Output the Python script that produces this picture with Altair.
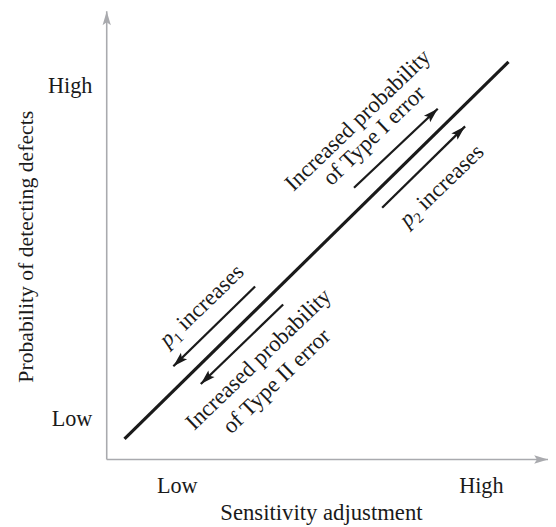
import altair as alt
import pandas as pd

# ---- data (abstract units: 0..10 on both axes) ----
tick_x = [1.588, 8.479]          # "Low", "High" on sensitivity axis
tick_y = [0.903, 8.341]          # "Low", "High" on probability axis

main_x = [0.403, 9.105]
main_y = [0.463, 8.870]

arrow_names = ["Type I", "p2", "p1", "Type II"]
tail_x = [5.604, 6.242, 3.362, 3.998]
tail_y = [6.064, 5.617, 3.861, 3.458]
tip_x = [7.501, 8.121, 1.510, 2.132]
tip_y = [7.826, 7.434, 2.081, 1.685]
tip_angle = [46, 46, 226, 226]

text_lines = ["Increased probability", "of Type I error",
              "Increased probability", "of Type II error"]
text_x = [5.690, 6.060, 3.440, 3.850]
text_y = [7.570, 7.225, 2.235, 1.745]

p_subs = ["2", "1"]
p_x = [7.590, 2.150]
p_y = [6.110, 3.430]

axis_x0 = [0, 0]
axis_y0 = [0, 0]
axis_x1 = [10, 0]
axis_y1 = [0, 10]
axis_head_angle = [90, 0]

# ---- tables ----
main_df = pd.DataFrame({"x": [main_x[0]], "y": [main_y[0]], "x2": [main_x[1]], "y2": [main_y[1]]})
arrow_df = pd.DataFrame({"name": arrow_names, "x": tail_x, "y": tail_y, "x2": tip_x, "y2": tip_y})
head_df = pd.DataFrame({"name": arrow_names, "x": tip_x, "y": tip_y, "a": tip_angle})
text_df = pd.DataFrame({"t": text_lines, "x": text_x, "y": text_y})
p_df = pd.DataFrame({"sub": p_subs, "x": p_x, "y": p_y})
axis_df = pd.DataFrame({"x": axis_x0, "y": axis_y0, "x2": axis_x1, "y2": axis_y1})
axis_head_df = pd.DataFrame({"x": axis_x1, "y": axis_y1, "a": axis_head_angle})

FONT = "Liberation Serif"
INK = "#1a1a1a"
GRAY = "#a9aaae"
TANGLE = 316

xs = alt.Scale(domain=[0, 10], nice=False, zero=False)
ys = alt.Scale(domain=[0, 10], nice=False, zero=False)

x_axis = alt.Axis(
    values=tick_x, labelExpr="datum.value < 5 ? 'Low' : 'High'",
    title="Sensitivity adjustment", titleX=217, titleY=61, titleBaseline="alphabetic",
    titleFontSize=23,
    labelPadding=15, labelFlush=False, labelOverlap=False,
    domain=False, ticks=False, tickSize=0, grid=False,
)
y_axis = alt.Axis(
    values=tick_y, labelExpr="datum.value < 5 ? 'Low' : 'High'",
    title="Probability of detecting defects", titleX=-75.5, titleY=238, titleBaseline="alphabetic",
    titleAngle=270, titleFontSize=22,
    labelPadding=15, labelFlush=False, labelOverlap=False,
    domain=False, ticks=False, tickSize=0, grid=False,
)

X = alt.X("x:Q", scale=xs, axis=x_axis)
Y = alt.Y("y:Q", scale=ys, axis=y_axis)

ARROW = "M0,0L-0.3,1L0,0.8L0.3,1Z"

axes_lines = alt.Chart(axis_df).mark_rule(color=GRAY, strokeWidth=1.6).encode(
    x=X, y=Y, x2="x2:Q", y2="y2:Q")
axes_heads = alt.Chart(axis_head_df).mark_point(
    shape=ARROW, filled=True, color=GRAY, size=784, opacity=1, strokeWidth=0
).encode(x=X, y=Y, angle=alt.Angle("a:Q", scale=None))

main_line = alt.Chart(main_df).mark_rule(color=INK, strokeWidth=3.2).encode(
    x=X, y=Y, x2="x2:Q", y2="y2:Q")
arrows = alt.Chart(arrow_df).mark_rule(color=INK, strokeWidth=2.3).encode(
    x=X, y=Y, x2="x2:Q", y2="y2:Q")
heads = alt.Chart(head_df).mark_point(
    shape=ARROW, filled=True, color=INK, size=900, opacity=1, strokeWidth=0
).encode(x=X, y=Y, angle=alt.Angle("a:Q", scale=None))

texts = alt.Chart(text_df).mark_text(
    font=FONT, fontSize=23, color=INK, angle=TANGLE, align="center", baseline="middle"
).encode(x=X, y=Y, text="t:N")

p_letter = alt.Chart(p_df).mark_text(
    font=FONT, fontSize=23, fontStyle="italic", color=INK, angle=TANGLE,
    align="left", baseline="middle", dx=-54.5
).encode(x=X, y=Y, text=alt.value("p"))
p_sub = alt.Chart(p_df).mark_text(
    font=FONT, fontSize=15, color=INK, angle=TANGLE,
    align="left", baseline="middle", dx=-43, dy=7
).encode(x=X, y=Y, text="sub:N")
p_rest = alt.Chart(p_df).mark_text(
    font=FONT, fontSize=23, color=INK, angle=TANGLE,
    align="left", baseline="middle", dx=-29.75
).encode(x=X, y=Y, text=alt.value("increases"))

chart = alt.layer(
    axes_lines, axes_heads, main_line, arrows, heads, texts, p_letter, p_sub, p_rest
).properties(
    width=447, height=454,
    background="white",
    autosize=alt.AutoSizeParams(type="none"),
    padding={"left": 100, "top": 0, "right": 0, "bottom": 64},
).configure_view(stroke=None).configure_axis(
    labelFont=FONT, labelFontSize=22.5, labelColor=INK,
    titleFont=FONT, titleFontWeight="normal", titleColor=INK,
)

chart.save("out.html", embed_options={"renderer": "svg", "actions": False})
